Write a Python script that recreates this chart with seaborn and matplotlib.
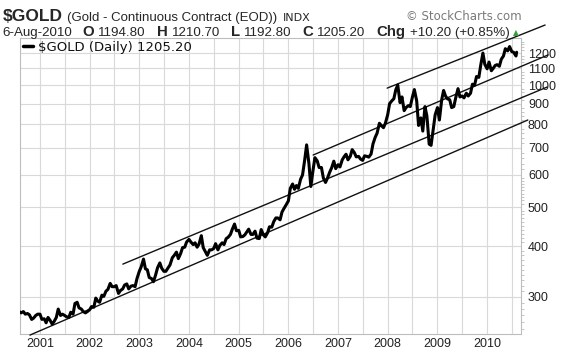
import pandas as pd
import matplotlib
matplotlib.use('Agg')
import matplotlib.pyplot as plt
import matplotlib.dates as mdates
import matplotlib.ticker as mticker
from matplotlib.lines import Line2D
import seaborn as sns

# Gold closes, 1st and 15th of each month
gold_2000 = [276, 274, 276, 272, 273, 271, 264, 266, 270, 272]  # Aug-Dec
gold_2001 = [272, 264, 265, 259, 267, 263, 257, 261, 267, 280, 270, 272,
             270, 268, 267, 275, 272, 289, 291, 282, 280, 276, 274, 276]
gold_2002 = [279, 284, 283, 298, 293, 291, 303, 301, 310, 313, 324, 318,
             318, 320, 306, 311, 314, 321, 323, 314, 319, 320, 318, 333]
gold_2003 = [347, 356, 372, 352, 350, 335, 333, 327, 340, 354, 364, 353,
             347, 347, 354, 360, 375, 380, 387, 373, 384, 397, 398, 410]
gold_2004 = [416, 410, 404, 408, 398, 405, 425, 397, 388, 380, 392, 392,
             395, 406, 392, 402, 408, 404, 418, 421, 428, 441, 454, 437]
gold_2005 = [438, 422, 423, 427, 434, 441, 428, 428, 436, 419, 418, 440,
             427, 422, 432, 447, 446, 460, 470, 470, 465, 486, 497, 506]
gold_2006 = [518, 556, 570, 553, 565, 556, 586, 600, 654, 712, 640, 562,
             616, 662, 650, 626, 626, 590, 575, 589, 610, 625, 649, 622]
gold_2007 = [636, 628, 654, 666, 675, 654, 667, 693, 681, 665, 667, 657,
             652, 669, 667, 664, 676, 716, 743, 761, 805, 795, 785, 805]
gold_2008 = [845, 900, 915, 925, 975, 1000, 905, 935, 865, 880, 890, 885,
             935, 975, 915, 795, 830, 770, 885, 840, 715, 710, 780, 845]
gold_2009 = [880, 820, 920, 970, 940, 925, 920, 880, 885, 930, 980, 935,
             940, 930, 955, 940, 955, 1005, 1000, 1050, 1045, 1120, 1200, 1125]
gold_2010 = [1097, 1140, 1085, 1100, 1118, 1123, 1113, 1158, 1180, 1230,
             1215, 1245, 1210, 1205, 1180]  # Jan - 1 Aug
last_close = 1205.20

tick_prices = [300, 400, 500, 600, 700, 800, 900, 1000, 1100, 1200]

# trend channel lines: start date, start price, end date, end price
channel_lines = [
    ('2000-10-19', 241.5, '2010-10-27', 820),
    ('2002-09-02', 361.5, '2011-03-18', 989),
    ('2006-07-02', 672, '2011-03-25', 1187),
    ('2007-12-28', 983, '2011-03-03', 1407),
]

dates = list(pd.date_range('2000-08-01', '2010-08-01', freq='SMS')) + [pd.Timestamp('2010-08-06')]
closes = (gold_2000 + gold_2001 + gold_2002 + gold_2003 + gold_2004 + gold_2005
          + gold_2006 + gold_2007 + gold_2008 + gold_2009 + gold_2010 + [last_close])
df = pd.DataFrame({'date': dates, 'close': closes})

sns.set_style('white')
plt.rcParams['font.family'] = ['Liberation Sans', 'DejaVu Sans']


def fx(px):
    return px / 576


def fy(py):
    return 1 - py / 355


fig = plt.figure(figsize=(5.76, 3.55), dpi=100)
ax = fig.add_axes([fx(20), fy(334), (521 - 20) / 576, (334 - 38) / 355])

sns.lineplot(data=df, x='date', y='close', color='black', linewidth=2.2, ax=ax, zorder=4)

for d0, p0, d1, p1 in channel_lines:
    ax.plot([pd.Timestamp(d0), pd.Timestamp(d1)], [p0, p1], color='#111111',
            linewidth=1.0, clip_on=False, zorder=3)

ax.set_yscale('log')
ax.set_ylim(243, 1307)
ax.set_xlim(pd.Timestamp('2000-08-07'), pd.Timestamp('2010-09-07'))
ax.set_xlabel('')
ax.set_ylabel('')

# y axis on the right
ax.yaxis.tick_right()
ax.yaxis.set_major_locator(mticker.FixedLocator(tick_prices))
ax.yaxis.set_major_formatter(mticker.FixedFormatter([str(p) for p in tick_prices]))
ax.yaxis.set_minor_locator(mticker.FixedLocator(list(range(250, 600, 10)) + list(range(600, 1300, 20))))
ax.yaxis.set_minor_formatter(mticker.NullFormatter())
ax.tick_params(axis='y', which='major', length=0, pad=5, labelsize=9, colors='#222222')
ax.tick_params(axis='y', which='minor', length=2, width=0.6, color='#bbbbbb', right=True, left=False)

# x axis: years labelled, half-year grid
ax.xaxis.set_major_locator(mdates.YearLocator())
ax.xaxis.set_major_formatter(mdates.DateFormatter('%Y'))
ax.xaxis.set_minor_locator(mdates.MonthLocator(bymonth=7))
ax.tick_params(axis='x', which='both', length=0, pad=3, labelsize=9, colors='#222222')

ax.xaxis.grid(True, which='both', color='#d9d9d9', linewidth=0.8)
ax.yaxis.grid(True, which='major', color='#d9d9d9', linewidth=0.8)
ax.set_axisbelow(True)
for s in ax.spines.values():
    s.set_color('#bdbdbd')
    s.set_linewidth(0.8)

# legend entry
fig.add_artist(Line2D([fx(23), fx(33)], [fy(46), fy(46)], color='black', linewidth=2.5))
fig.text(fx(38), fy(50.5), '\\$GOLD (Daily) 1205.20', fontsize=9.5,
         family='DejaVu Sans', va='baseline', color='#111111')

renderer = fig.canvas.get_renderer()


def chain(pieces, x0, base):
    # pieces: (text, kwargs, gap after in px); returns x after last piece
    x = x0
    for txt, kw, gap in pieces:
        t = fig.text(fx(x), fy(base), txt, va='baseline', **kw)
        x += t.get_window_extent(renderer).width + gap
    return x


# header line 1
chain([('\\$GOLD', dict(fontsize=12.5, fontweight='bold'), 4),
       ('(Gold - Continuous Contract (EOD))', dict(fontsize=9.5), 6),
       ('INDX', dict(fontsize=8, family='DejaVu Sans'), 0)], 3, 21)
fig.text(fx(522), fy(20), '© StockCharts.com', fontsize=8.5, family='DejaVu Sans',
         color='#7a7a7a', ha='right', va='baseline')

# header line 2
reg = dict(fontsize=9.6)
bld = dict(fontsize=10.8, fontweight='bold')
line2 = [('6-Aug-2010', reg, 11),
         ('O', bld, 4), ('1194.80', reg, 11),
         ('H', bld, 4), ('1210.70', reg, 11),
         ('L', bld, 4), ('1192.80', reg, 11),
         ('C', bld, 4), ('1205.20', reg, 11),
         ('Chg', bld, 4), ('+10.20 (+0.85%)', reg, 3)]
xe = chain(line2, 2, 36)
fig.text(fx(xe), fy(35), '▲', fontsize=5.5, family='DejaVu Sans', color='#3d9a3d', va='baseline')

fig.savefig('out.png', dpi=100)
